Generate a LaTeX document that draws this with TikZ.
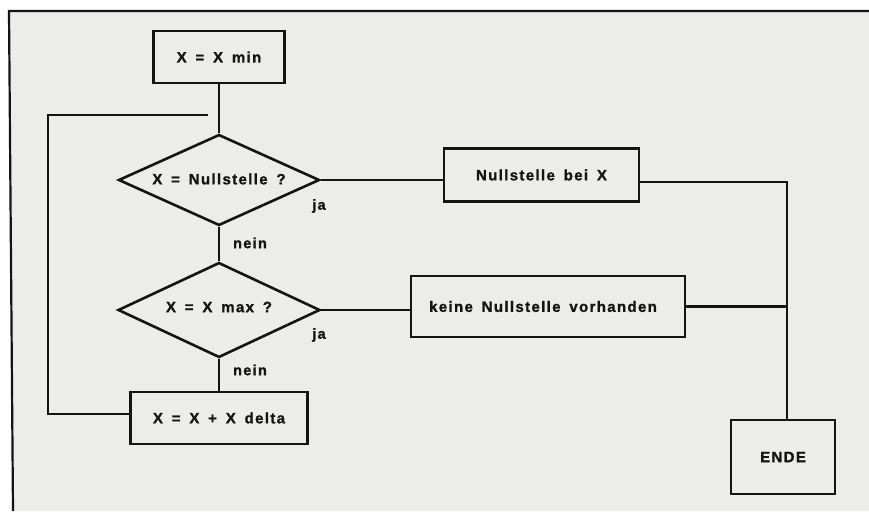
\documentclass[tikz,border=0pt]{standalone}
\usepackage{fontspec}
\setmainfont{Liberation Sans}[LetterSpace=9, WordSpace=1.6, BoldFeatures={FakeBold=1.2}]
\usetikzlibrary{shapes.geometric}
\definecolor{paper}{RGB}{236,236,234}
\definecolor{ink}{RGB}{20,20,20}
\tikzset{
  x=1pt,y=-1pt,
  every node/.style={font=\fontsize{15}{17}\selectfont\bfseries, text=ink},
  box/.style={draw=ink, line width=2.6pt, fill=none, inner sep=0pt},
  decision/.style={diamond, draw=ink, line width=2.6pt, inner sep=0pt},
  conn/.style={draw=ink, line width=2.2pt},
  lbl/.style={font=\fontsize{14.5}{16}\selectfont\bfseries}
}
\begin{document}
\begin{tikzpicture}
\useasboundingbox (0,0) rectangle (869,511);
\fill[white] (0,0) rectangle (869,511);
\fill[paper] (9,11) -- (869,11) -- (869,511) -- (13,511) -- cycle;
\draw[ink, line width=2.2pt] (13,511) -- (9,11) -- (869,11);

\node[box, minimum width=131, minimum height=52] (start) at (219,57) {X = X min};
\node[decision, minimum width=201, minimum height=91] (d1) at (219,180) {};
\node at (219,179) {X = Nullstelle ?};
\node[box, minimum width=195, minimum height=53] (nb) at (541.5,175) {Nullstelle bei X};
\node[decision, minimum width=202, minimum height=95] (d2) at (219,310) {};
\node at (219,307) {X = X max ?};
\node[box, minimum width=274, minimum height=61] (keine) at (548,306.5) {\hspace*{-10pt}keine Nullstelle vorhanden};
\node[box, minimum width=177, minimum height=52] (inc) at (219,418) {X = X + X delta};
\node[box, minimum width=104, minimum height=74] (ende) at (783,457) {ENDE};

\node[lbl] (ja1) at (319,206) {ja};
\node[lbl] (nein1) at (250,243) {nein};
\node[lbl] (ja2) at (319,335) {ja};
\node[lbl] (nein2) at (250,370) {nein};

\coordinate (loopend) at (208,115);
\coordinate (loopcorner1) at (48,414);
\coordinate (loopcorner2) at (48,115);
\coordinate (join) at (787,182);

\draw[conn] (start.south) -- (d1.north);
\draw[conn] (d1.east) -- (nb.west |- d1.east);
\draw[conn] (d1.south) -- (d2.north);
\draw[conn] (d2.east) -- (keine.west |- d2.east);
\draw[conn] (d2.south) -- (inc.north);
\draw[conn] (inc.west |- loopcorner1) -- (loopcorner1) -- (loopcorner2) -- (loopend);
\draw[conn] (nb.east |- join) -- (join) -- (ende.north -| join);
\draw[conn] (keine.east) -- (keine.east -| join);
\end{tikzpicture}
\end{document}
